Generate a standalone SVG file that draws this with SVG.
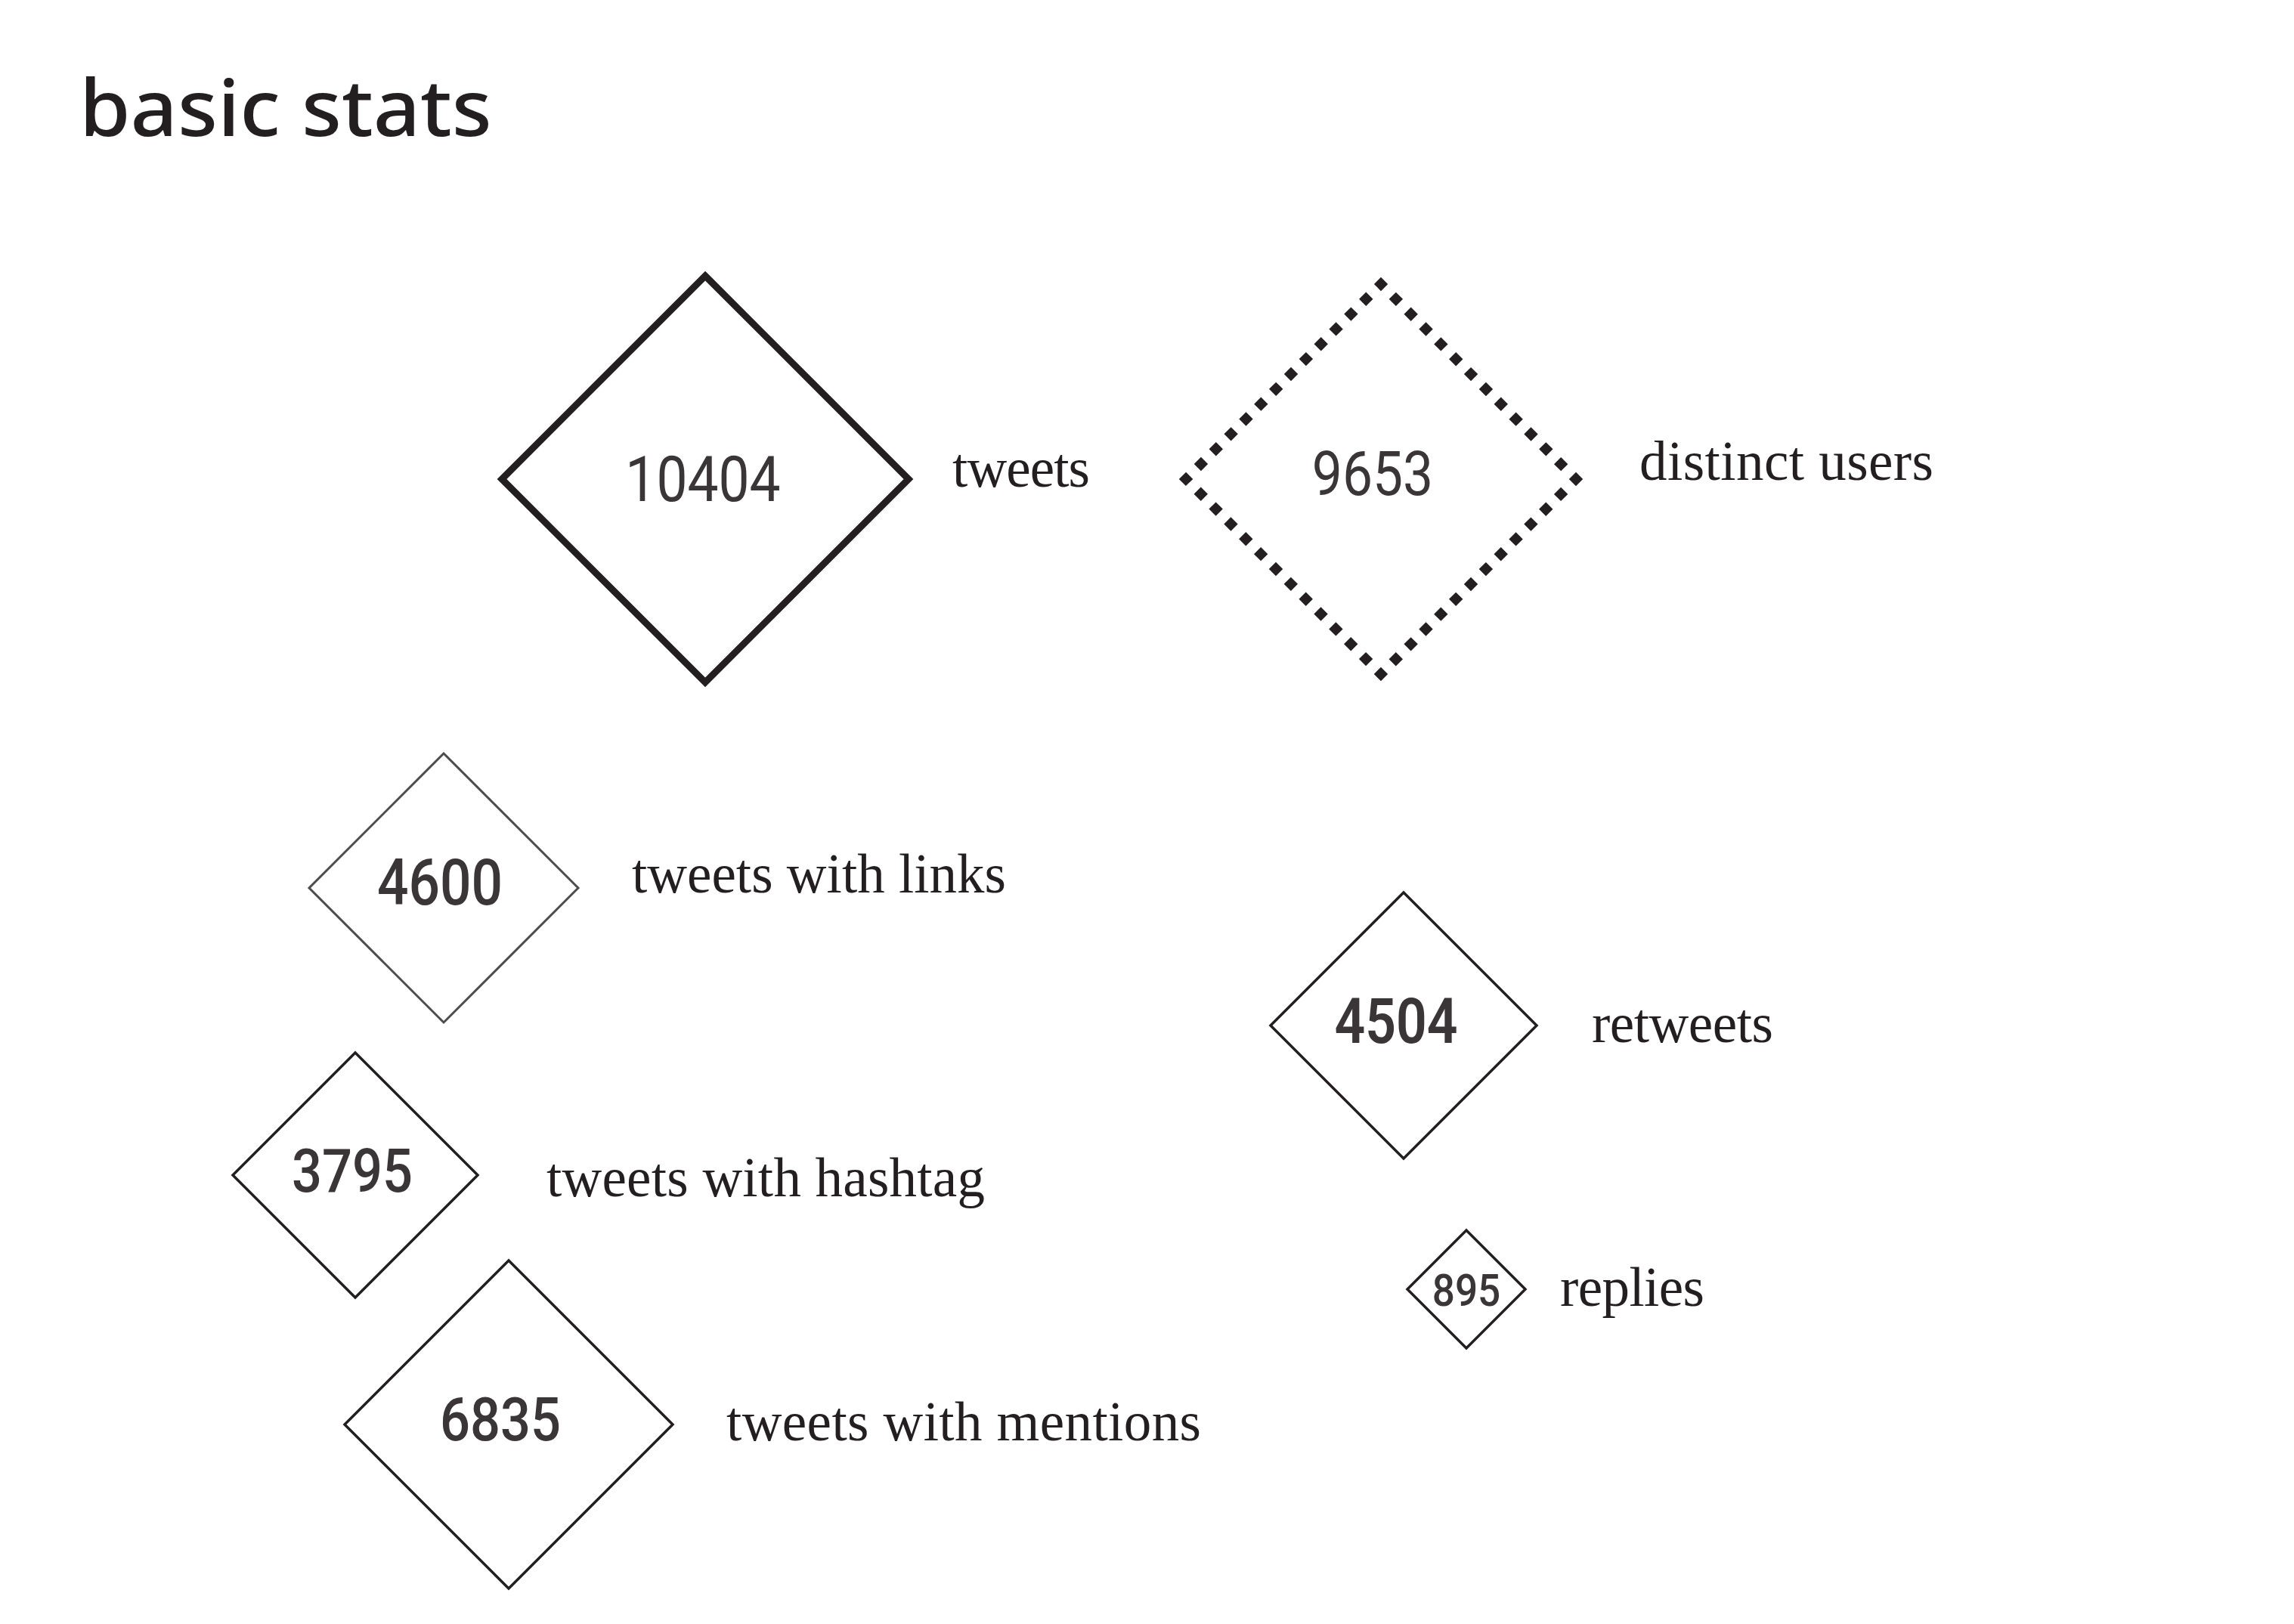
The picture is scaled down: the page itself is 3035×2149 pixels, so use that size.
<svg xmlns="http://www.w3.org/2000/svg" width="3035" height="2149" viewBox="0 0 3035 2149">
<style>
.title{font-family:"Noto Sans","Lato",sans-serif;font-size:103px;font-weight:500;fill:#231f20}
.num{font-family:Roboto,"Liberation Sans",sans-serif;fill:#3a3637;text-anchor:middle;font-weight:500}
.num.light{font-weight:400}
.num.heavy{font-weight:600}
.lbl{font-family:"Liberation Serif","Times New Roman",serif;font-size:73px;fill:#231f20}
.d{fill:none;stroke:#231f20;stroke-width:3.5;stroke-linejoin:miter}
</style>
<rect width="3035" height="2149" fill="#ffffff"/>
<text class="title" transform="translate(105,180) scale(1.06,1)" x="0" y="0" textLength="515" lengthAdjust="spacing">basic stats</text>
<g id="connectors"></g>
<g id="node-tweets">
<polygon class="d" style="stroke-width:9" points="933,365 1202,634 933,903 664,634"/>
<text class="num light" font-size="84" transform="translate(930,663) scale(0.87,1)">10404</text>
<text class="lbl" x="1260" y="644" textLength="182" lengthAdjust="spacing">tweets</text>
</g>
<g id="node-users">
<polygon class="d" style="stroke-width:13;stroke-dasharray:13 15.07;stroke-dashoffset:6.5" points="1827,376 2085,634 1827,892 1569,634"/>
<text class="num light" font-size="82" transform="translate(1816,655) scale(0.87,1)">9653</text>
<text class="lbl" x="2169" y="635" textLength="389" lengthAdjust="spacing">distinct users</text>
</g>
<g id="node-links">
<polygon class="d" style="stroke:#4d4b4c;stroke-width:3" points="587,997 765,1175 587,1353 409,1175"/>
<text class="num" font-size="86" transform="translate(582,1197) scale(0.85,1)">4600</text>
<text class="lbl" x="836" y="1181" textLength="495" lengthAdjust="spacing">tweets with links</text>
</g>
<g id="node-hashtag">
<polygon class="d" points="470,1393 632,1555 470,1717 308,1555"/>
<text class="num" font-size="80" transform="translate(466,1577) scale(0.88,1)">3795</text>
<text class="lbl" x="723" y="1583" textLength="580" lengthAdjust="spacing">tweets with hashtag</text>
</g>
<g id="node-mentions">
<polygon class="d" points="673,1668 890,1885 673,2102 456,1885"/>
<text class="num" font-size="80" transform="translate(662,1906) scale(0.88,1)">6835</text>
<text class="lbl" x="961" y="1906" textLength="628" lengthAdjust="spacing">tweets with mentions</text>
</g>
<g id="node-retweets">
<polygon class="d" points="1857,1181 2033,1357 1857,1533 1681,1357"/>
<text class="num heavy" font-size="84" transform="translate(1847,1380) scale(0.85,1)">4504</text>
<text class="lbl" x="2106" y="1379" textLength="240" lengthAdjust="spacing">retweets</text>
</g>
<g id="node-replies">
<polygon class="d" points="1940,1628 2018,1706 1940,1784 1862,1706"/>
<text class="num" font-size="59" transform="translate(1940,1728) scale(0.9,1)">895</text>
<text class="lbl" x="2064" y="1728" textLength="191" lengthAdjust="spacing">replies</text>
</g>
</svg>
